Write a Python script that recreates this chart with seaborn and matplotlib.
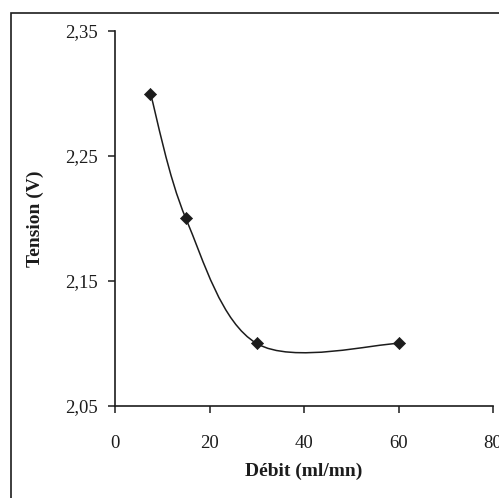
import matplotlib
matplotlib.use("Agg")
import matplotlib.pyplot as plt
import seaborn as sns
import pandas as pd
from matplotlib.path import Path
from matplotlib.patches import PathPatch, Rectangle
from matplotlib.ticker import FuncFormatter, FixedLocator

# Data
debit = [7.5, 15, 30, 60]          # ml/mn
tension = [2.30, 2.20, 2.10, 2.10]  # V
x_ticks = [0, 20, 40, 60, 80]
y_ticks = [2.05, 2.15, 2.25, 2.35]
x_label = "Débit (ml/mn)"
y_label = "Tension (V)"

sns.set_style("ticks")
plt.rcParams["font.family"] = ["Liberation Serif", "DejaVu Serif"]

ink = "#1c1c1c"
fig = plt.figure(figsize=(4.99, 4.98), dpi=100)
ax = fig.add_axes([115 / 499, 1 - 406 / 498, 378 / 499, 375 / 498])

# Smoothed line (Excel-like Catmull-Rom Bezier through the data points)
pts = list(zip(debit, tension))
verts = [pts[0]]
codes = [Path.MOVETO]
n = len(pts)
for i in range(n - 1):
    p0 = pts[i - 1] if i > 0 else pts[i]
    p1 = pts[i]
    p2 = pts[i + 1]
    p3 = pts[i + 2] if i + 2 < n else pts[i + 1]
    c1 = (p1[0] + (p2[0] - p0[0]) / 6, p1[1] + (p2[1] - p0[1]) / 6)
    c2 = (p2[0] - (p3[0] - p1[0]) / 6, p2[1] - (p3[1] - p1[1]) / 6)
    verts += [c1, c2, p2]
    codes += [Path.CURVE4] * 3
ax.add_patch(PathPatch(Path(verts, codes), facecolor="none", edgecolor=ink,
                       lw=1.1, zorder=2))

df = pd.DataFrame({"debit": debit, "tension": tension})
sns.scatterplot(data=df, x="debit", y="tension", ax=ax, marker="D", s=38,
                color=ink, edgecolor=ink, linewidth=0.5, zorder=3, legend=False)

ax.set_xlim(0, 80)
ax.set_ylim(2.05, 2.35)
ax.xaxis.set_major_locator(FixedLocator(x_ticks))
ax.yaxis.set_major_locator(FixedLocator(y_ticks))
ax.yaxis.set_major_formatter(FuncFormatter(lambda v, p: f"{v:.2f}".replace(".", ",")))
ax.xaxis.set_major_formatter(FuncFormatter(lambda v, p: f"{v:g}"))

for side in ["top", "right"]:
    ax.spines[side].set_visible(False)
for side in ["left", "bottom"]:
    ax.spines[side].set_linewidth(1.2)
    ax.spines[side].set_color(ink)

ax.tick_params(axis="both", direction="out", length=5, width=1.1, color=ink,
               labelsize=13.5, labelcolor=ink)
ax.tick_params(axis="x", pad=16)
ax.tick_params(axis="y", pad=7)

ax.set_xlabel(x_label, fontsize=14, fontweight="bold", color=ink, va="center")
ax.set_ylabel(y_label, fontsize=14, fontweight="bold", color=ink, va="center")
ax.xaxis.set_label_coords(0.5, (406 - 471) / 375)
ax.yaxis.set_label_coords((35 - 115) / 378, 0.5)

# Frame around the figure (cropped at right and bottom in the reference)
fig.patches.append(Rectangle((11 / 499, -0.2), 1.5, 1 - 13 / 498 + 0.2,
                             transform=fig.transFigure, fill=False,
                             edgecolor=ink, lw=1.2))

fig.savefig("out.png", dpi=100)
